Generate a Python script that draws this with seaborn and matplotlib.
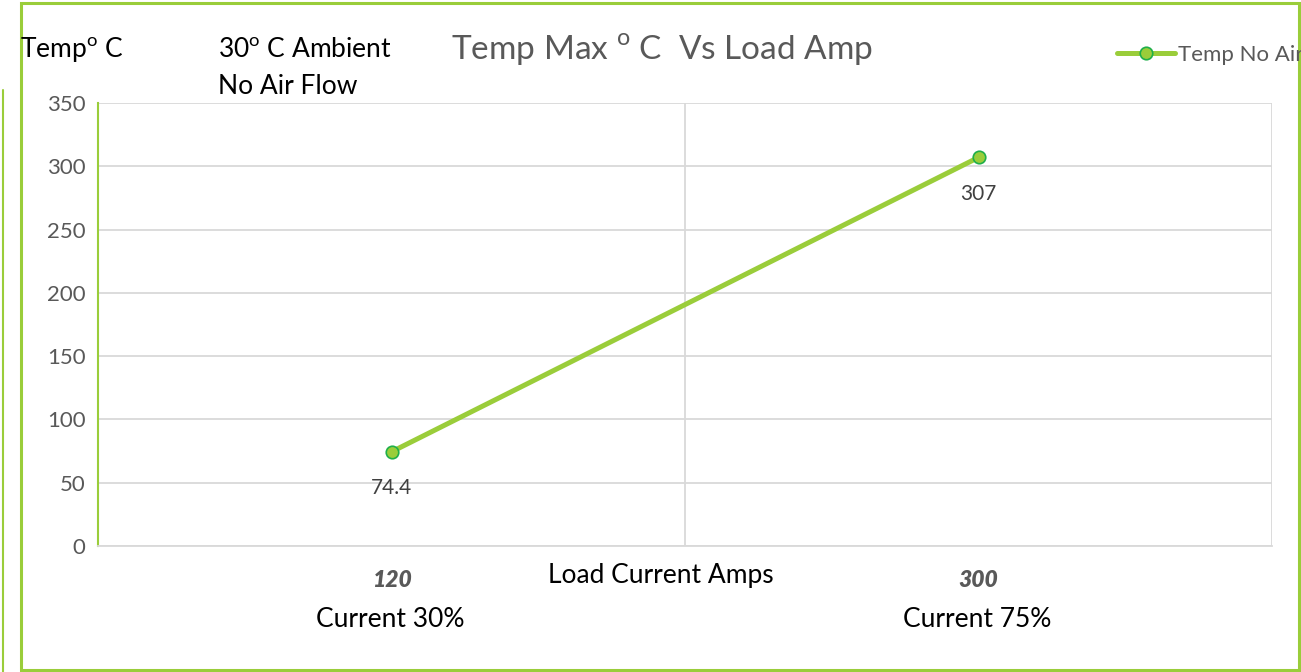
import pandas as pd
import matplotlib
matplotlib.use("Agg")
import matplotlib.pyplot as plt
import seaborn as sns
from matplotlib.patches import Rectangle
from matplotlib.lines import Line2D

# chart data
load_amps = ["120", "300"]
load_pct = ["Current 30%", "Current 75%"]
temp_max = [74.4, 307]
series_name = "Temp No Air"
y_ticks = [0, 50, 100, 150, 200, 250, 300, 350]

sns.set_style("white")
plt.rcParams['font.family'] = ['Lato', 'DejaVu Sans']
plt.rcParams['mathtext.fontset'] = 'custom'
plt.rcParams['mathtext.rm'] = 'Lato'

green = "#9ACD3A"
dark_green = "#1FAF4A"
grey_txt = "#595959"
grid_c = "#D9D9D9"

df = pd.DataFrame({"amps": load_amps, "temp": temp_max, "series": series_name})

W, H = 1301, 672
fig = plt.figure(figsize=(13.01, 6.72), dpi=100)
ax = fig.add_axes([98 / W, 1 - 546 / H, (1272 - 98) / W, (546 - 103) / H])

sns.lineplot(data=df, x="amps", y="temp", ax=ax, color=green, linewidth=3.6,
             marker="o", markersize=9, markerfacecolor=green,
             markeredgecolor=dark_green, markeredgewidth=1.2,
             label=series_name, legend=False)

ax.set_xlim(-0.5, 1.5)
ax.set_ylim(0, 350)
ax.set_yticks(y_ticks)
ax.set_xticks(range(len(load_amps)))
ax.set_xticklabels(load_amps)
ax.set_xlabel("")
ax.set_ylabel("")

# grid and axis styling
ax.set_xticks([-0.5, 0.5, 1.5], minor=True)
ax.grid(axis="y", color=grid_c, linewidth=1.3)
ax.grid(axis="x", which="minor", color=grid_c, linewidth=1.3)
ax.set_axisbelow(True)
for s in ["top", "right"]:
    ax.spines[s].set_visible(False)
ax.spines["left"].set_color(green)
ax.spines["left"].set_linewidth(1.5)
ax.spines["bottom"].set_color(grid_c)
ax.spines["bottom"].set_linewidth(1.3)
ax.tick_params(axis="y", direction="inout", length=14, width=1.5, color=green,
               labelsize=16, labelcolor=grey_txt, pad=2)
ax.tick_params(axis="x", which="major", length=0, pad=17, labelsize=16.5,
               labelcolor=grey_txt)
ax.tick_params(axis="x", which="minor", direction="out", length=7, width=1.3,
               color=grid_c)
for lbl in ax.get_xticklabels():
    lbl.set_fontweight("heavy")
    lbl.set_fontstyle("italic")

# data labels under points
for i, v in enumerate(temp_max):
    ax.annotate(f"{v:g}", (i, v), xytext=(0, -26), textcoords="offset points",
                ha="center", va="center", fontsize=15, color="#404040")

# second line of category labels
for i, txt in enumerate(load_pct):
    ax.annotate(txt, (i, 0), xycoords=("data", "axes fraction"),
                xytext=(-1, -53), textcoords="offset points",
                ha="center", va="center", fontsize=19, color="black")

def fx(px):
    return px / W

def fy(py):
    return 1 - py / H

fig.text(fx(662), fy(50), r"Temp Max $^{\mathrm{o}}$ C  Vs Load Amp", ha="center",
         va="center", fontsize=24, color=grey_txt)
fig.text(fx(20), fy(50), r"Temp$^{\mathrm{o}}$ C", ha="left", va="center",
         fontsize=19, color="black")
fig.text(fx(218), fy(50), r"30$^{\mathrm{o}}$ C Ambient", ha="left", va="center",
         fontsize=19, color="black")
fig.text(fx(218), fy(87), "No Air Flow", ha="left", va="center",
         fontsize=19, color="black")
fig.text(fx(661), fy(575), "Load Current Amps", ha="center", va="center",
         fontsize=19, color="black")

# legend
handle = Line2D([], [], color=green, linewidth=3.6, marker="o", markersize=9,
                markerfacecolor=green, markeredgecolor=dark_green,
                markeredgewidth=1.2)
fig.legend([handle], [series_name], loc="center left",
           bbox_to_anchor=(fx(1117), fy(55)), frameon=False, fontsize=16,
           handlelength=2.6, handletextpad=0.15, labelcolor=grey_txt,
           borderaxespad=0, borderpad=0)

# chart border
fig.patches.append(Rectangle((fx(21), fy(670)), fx(1299) - fx(21), fy(3) - fy(670),
                             transform=fig.transFigure, fill=False,
                             edgecolor=green, linewidth=2.2))
fig.lines.append(Line2D([fx(3), fx(3)], [fy(90), 0], transform=fig.transFigure,
                        color=green, linewidth=1.5))

fig.savefig("out.png", dpi=100)
